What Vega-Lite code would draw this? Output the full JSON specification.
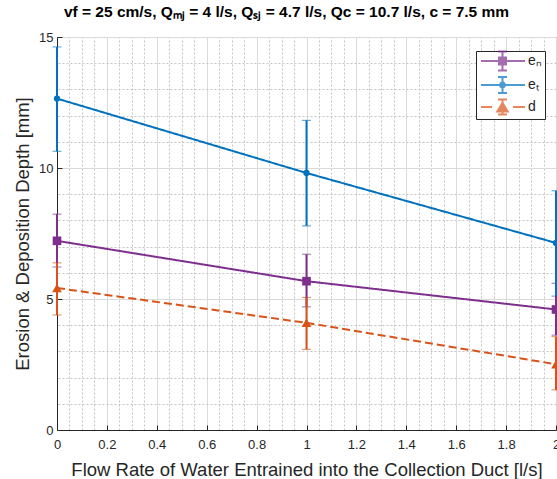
{
  "$schema": "https://vega.github.io/schema/vega-lite/v6.json",
  "width": 499,
  "height": 393,
  "autosize": {"type": "none"},
  "padding": {"left": 57, "top": 37, "right": 1, "bottom": 49},
  "config": {
    "font": "Liberation Sans",
    "view": {"stroke": "#262626", "strokeWidth": 1}
  },
  "title": {
    "text": "vf = 25 cm/s, Qₘⱼ = 4 l/s, Qₛⱼ = 4.7 l/s, Qc = 10.7 l/s, c = 7.5 mm",
    "fontSize": 15.5,
    "fontWeight": "bold",
    "color": "#000000",
    "anchor": "middle",
    "frame": "group",
    "dx": -20,
    "offset": 11
  },
  "data": {
    "values": [
      {"s": "e_n", "x": 0, "y": 7.22, "lo": 6.22, "hi": 8.24},
      {"s": "e_n", "x": 1, "y": 5.68, "lo": 4.70, "hi": 6.71},
      {"s": "e_n", "x": 2, "y": 4.60, "lo": 3.62, "hi": 5.60},
      {"s": "e_t", "x": 0, "y": 12.65, "lo": 10.64, "hi": 14.62},
      {"s": "e_t", "x": 1, "y": 9.81, "lo": 7.79, "hi": 11.82},
      {"s": "e_t", "x": 2, "y": 7.14, "lo": 5.11, "hi": 9.13},
      {"s": "d", "x": 0, "y": 5.42, "lo": 4.39, "hi": 6.38},
      {"s": "d", "x": 1, "y": 4.09, "lo": 3.08, "hi": 5.06},
      {"s": "d", "x": 2, "y": 2.51, "lo": 1.53, "hi": 3.56}
    ]
  },
  "layer": [
    {
      "transform": [{"filter": "false"}],
      "mark": {"type": "point", "filled": true, "opacity": 1},
      "encoding": {
        "x": {"field": "x", "type": "quantitative", "axis": null},
        "y": {"field": "y", "type": "quantitative", "axis": null},
        "color": {
          "field": "s", "type": "nominal",
          "scale": {"domain": ["e_n", "e_t", "d"], "range": ["#7E2F8E", "#0072BD", "#D95319"]},
          "legend": {
            "orient": "none", "legendX": 419, "legendY": 14,
            "title": null, "padding": 3, "symbolSize": 100, "labelOffset": 35,
            "symbolStrokeWidth": 0, "symbolOpacity": 1,
            "labelFontSize": 14, "labelColor": "#262626",
            "strokeColor": "#262626", "fillColor": "#ffffff", "rowPadding": 4,
            "labelExpr": "datum.value === 'e_n' ? 'eₙ' : datum.value === 'e_t' ? 'eₜ' : 'd'"
          }
        },
        "shape": {
          "field": "s", "type": "nominal",
          "scale": {
            "domain": ["e_n", "e_t", "d"],
            "range": [
              "M-1,-0.2H7.8V0.2H-1ZM3.1,-1.9H3.5V1.9H3.1ZM2.4,-2.1H4.2V-1.7H2.4ZM2.4,1.7H4.2V2.1H2.4ZM2.4,-0.9H4.2V0.9H2.4Z",
              "M-1,-0.2H7.8V0.2H-1ZM3.1,-1.6H3.5V1.6H3.1ZM2.4,-1.8H4.2V-1.4H2.4ZM2.4,1.4H4.2V1.8H2.4ZM2.6,0A0.7,0.7 0 1,1 4.0,0A0.7,0.7 0 1,1 2.6,0Z",
              "M-1,-0.2H1.2V0.2H-1ZM5.4,-0.2H7.8V0.2H5.4ZM3.1,-1.5H3.5V1.5H3.1ZM2.4,-1.7H4.2V-1.3H2.4ZM2.4,1.3H4.2V1.7H2.4ZM3.3,-1.2L4.7,1.1H1.9Z"
            ]
          },
          "legend": {
            "orient": "none", "legendX": 419, "legendY": 14,
            "title": null, "padding": 3, "symbolSize": 100, "labelOffset": 35,
            "symbolStrokeWidth": 0, "symbolOpacity": 1,
            "labelFontSize": 14, "labelColor": "#262626",
            "strokeColor": "#262626", "fillColor": "#ffffff", "rowPadding": 4,
            "labelExpr": "datum.value === 'e_n' ? 'eₙ' : datum.value === 'e_t' ? 'eₜ' : 'd'"
          }
        }
      }
    },
    {
      "mark": {"type": "line", "strokeWidth": 2},
      "encoding": {
        "x": {
          "field": "x", "type": "quantitative",
          "scale": {"domain": [0, 2], "nice": false},
          "axis": {"orient": "top", "tickCount": 40, "grid": true, "gridDash": [2, 2], "gridColor": "#c4c4c4", "gridWidth": 1, "labels": false, "ticks": false, "domain": false, "title": null}
        },
        "y": {
          "field": "y", "type": "quantitative",
          "scale": {"domain": [0, 15], "nice": false},
          "axis": {"orient": "right", "tickCount": 15, "grid": true, "gridDash": [2, 2], "gridColor": "#c4c4c4", "gridWidth": 1, "labels": false, "ticks": false, "domain": false, "title": null}
        },
        "color": {"field": "s", "type": "nominal"},
        "strokeDash": {
          "field": "s", "type": "nominal",
          "scale": {"domain": ["e_n", "e_t", "d"], "range": [[1, 0], [1, 0], [8, 4]]},
          "legend": null
        }
      }
    },
    {
      "mark": {"type": "errorbar", "ticks": {"size": 9, "strokeWidth": 2}, "rule": {"strokeWidth": 2}},
      "encoding": {
        "x": {
          "field": "x", "type": "quantitative",
          "axis": {
            "orient": "bottom",
            "values": [0, 0.2, 0.4, 0.6, 0.8, 1, 1.2, 1.4, 1.6, 1.8, 2],
            "format": "~g", "labelFlush": false,
            "grid": true, "gridColor": "#dadada", "gridWidth": 1,
            "domainColor": "#262626", "tickColor": "#262626", "tickSize": -5,
            "labelFontSize": 13, "labelColor": "#262626", "labelPadding": 13,
            "title": "Flow Rate of Water Entrained into the Collection Duct [l/s]",
            "titleFontSize": 18.5, "titleFontWeight": "normal", "titleColor": "#262626", "titlePadding": 9
          }
        },
        "y": {
          "field": "lo", "type": "quantitative",
          "axis": {
            "orient": "left",
            "values": [0, 5, 10, 15], "labelFlush": false,
            "grid": true, "gridColor": "#dadada", "gridWidth": 1,
            "domainColor": "#262626", "tickColor": "#262626", "tickSize": -5,
            "labelFontSize": 13, "labelColor": "#262626", "labelPadding": 9,
            "title": "Erosion & Deposition Depth [mm]",
            "titleFontSize": 18.5, "titleFontWeight": "normal", "titleColor": "#262626", "titlePadding": 6
          }
        },
        "y2": {"field": "hi"},
        "color": {"field": "s", "type": "nominal"}
      }
    },
    {
      "transform": [{"filter": "datum.s === 'e_n'"}],
      "mark": {"type": "point", "filled": true, "opacity": 1, "shape": "square", "size": 75},
      "encoding": {
        "x": {"field": "x", "type": "quantitative", "axis": null},
        "y": {"field": "y", "type": "quantitative", "axis": null},
        "color": {"field": "s", "type": "nominal"}
      }
    },
    {
      "transform": [{"filter": "datum.s === 'e_t'"}],
      "mark": {"type": "point", "filled": true, "opacity": 1, "shape": "circle", "size": 40},
      "encoding": {
        "x": {"field": "x", "type": "quantitative", "axis": null},
        "y": {"field": "y", "type": "quantitative", "axis": null},
        "color": {"field": "s", "type": "nominal"}
      }
    },
    {
      "transform": [{"filter": "datum.s === 'd'"}],
      "mark": {"type": "point", "filled": true, "opacity": 1, "shape": "triangle-up", "size": 95},
      "encoding": {
        "x": {"field": "x", "type": "quantitative", "axis": null},
        "y": {"field": "y", "type": "quantitative", "axis": null},
        "color": {"field": "s", "type": "nominal"}
      }
    }
  ],
  "resolve": {"axis": {"x": "independent", "y": "independent"}}
}
